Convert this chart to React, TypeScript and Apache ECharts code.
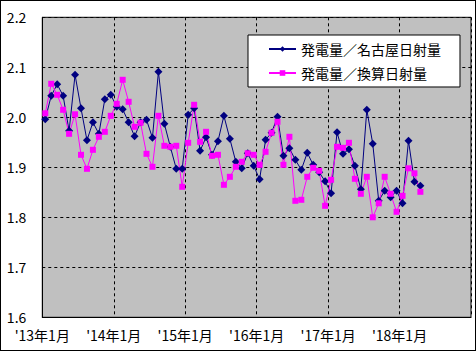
import React, { useEffect, useRef } from "react";
import * as echarts from "echarts";

const months: string[] = [];
for (let y = 2013; y <= 2018; y++) {
  for (let m = 1; m <= 12; m++) months.push(`${y}-${String(m).padStart(2, "0")}`);
}

const seriesNames = ["発電量／名古屋日射量", "発電量／換算日射量"];

const nagoyaRatio = [
  1.996, 2.043, 2.066, 2.043, 1.973, 2.085, 2.018, 1.954, 1.99, 1.967, 2.036, 2.045,
  2.021, 2.016, 1.99, 1.962, 1.99, 1.995, 1.959, 2.091, 1.987, 1.941, 1.897, 1.897,
  2.005, 2.018, 1.933, 1.96, 1.925, 1.952, 2.003, 1.957, 1.911, 1.898, 1.928, 1.903,
  1.876, 1.955, 1.969, 2.001, 1.923, 1.938, 1.915, 1.895, 1.929, 1.905, 1.89, 1.872,
  1.848, 1.97, 1.927, 1.936, 1.903, 1.856, 2.015, 1.947, 1.833, 1.853, 1.84, 1.853,
  1.828, 1.953, 1.871, 1.863,
];

const convertedRatio = [
  2.008, 2.067, 2.045, 2.015, 1.967, 2.006, 1.925, 1.897, 1.935, 1.961, 1.971, 2.003,
  2.027, 2.075, 2.031, 1.981, 1.989, 1.927, 1.901, 2.003, 1.943, 1.941, 1.943, 1.861,
  1.949, 2.025, 1.951, 1.971, 1.923, 1.925, 1.865, 1.881, 1.901, 1.911, 1.928, 1.925,
  1.905, 1.931, 1.969, 1.991, 1.905, 1.961, 1.833, 1.835, 1.881, 1.899, 1.893, 1.823,
  1.875, 1.941, 1.939, 1.949, 1.877, 1.847, 1.881, 1.8, 1.828, 1.881, 1.847, 1.811,
  1.843, 1.898, 1.888, 1.851,
];

const FONT = "'Noto Sans CJK JP', 'Noto Sans', sans-serif";

export default function App() {
  const ref = useRef<HTMLDivElement>(null);
  useEffect(() => {
    if (!ref.current) return;
    const chart = echarts.init(ref.current, null, { renderer: "svg" });
    chart.setOption({
      animation: false,
      backgroundColor: "#ffffff",
      textStyle: { fontFamily: FONT },
      grid: {
        left: 41.3,
        right: 4,
        top: 16.3,
        bottom: 32.7,
        show: true,
        backgroundColor: "#C0C0C0",
        borderColor: "#000000",
        borderWidth: 1,
      },
      legend: {
        orient: "vertical",
        left: 247,
        top: 34,
        padding: [7, 19, 7, 20],
        itemGap: 10,
        itemWidth: 27,
        itemHeight: 7,
        backgroundColor: "#ffffff",
        borderColor: "#000000",
        borderWidth: 1,
        borderRadius: 0,
        textStyle: { fontFamily: FONT, fontSize: 14, color: "#000000" },
        data: seriesNames,
      },
      xAxis: {
        type: "category",
        data: months,
        boundaryGap: true,
        axisLine: { lineStyle: { color: "#000000", width: 1 } },
        axisTick: { show: false },
        axisLabel: {
          interval: 11,
          margin: 10,
          fontSize: 14,
          lineHeight: 15,
          color: "#000000",
          fontFamily: FONT,
          padding: [0, 6, 0, 0],
          formatter: (v: string) => `'${v.slice(2, 4)}年${parseInt(v.slice(5), 10)}月`,
        },
        splitLine: {
          show: true,
          interval: 11,
          lineStyle: { color: "#000000", type: [3, 3], width: 1 },
        },
      },
      yAxis: {
        type: "value",
        min: 1.6,
        max: 2.2,
        interval: 0.1,
        axisLine: { show: true, lineStyle: { color: "#000000", width: 1 } },
        axisTick: { show: false },
        axisLabel: {
          margin: 16,
          fontSize: 14,
          lineHeight: 14,
          color: "#000000",
          fontFamily: FONT,
          formatter: (v: number) => v.toFixed(1),
        },
        splitLine: {
          show: true,
          lineStyle: { color: "#000000", type: [3, 3], width: 1 },
        },
      },
      series: [
        {
          name: seriesNames[0],
          type: "line",
          data: nagoyaRatio,
          symbol: "diamond",
          symbolSize: 8,
          showAllSymbol: true,
          itemStyle: { color: "#000080" },
          lineStyle: { color: "#000080", width: 1 },
        },
        {
          name: seriesNames[1],
          type: "line",
          data: convertedRatio,
          symbol: "rect",
          symbolSize: 6,
          showAllSymbol: true,
          itemStyle: { color: "#FF00FF" },
          lineStyle: { color: "#FF00FF", width: 1 },
        },
      ],
    });
    return () => chart.dispose();
  }, []);
  return (
    <div
      style={{
        position: "absolute",
        left: 0,
        top: 0,
        width: 476,
        height: 351,
        boxSizing: "border-box",
        border: "1px solid #000000",
        background: "#ffffff",
      }}
    >
      <div ref={ref} style={{ width: 474, height: 349 }} />
    </div>
  );
}
